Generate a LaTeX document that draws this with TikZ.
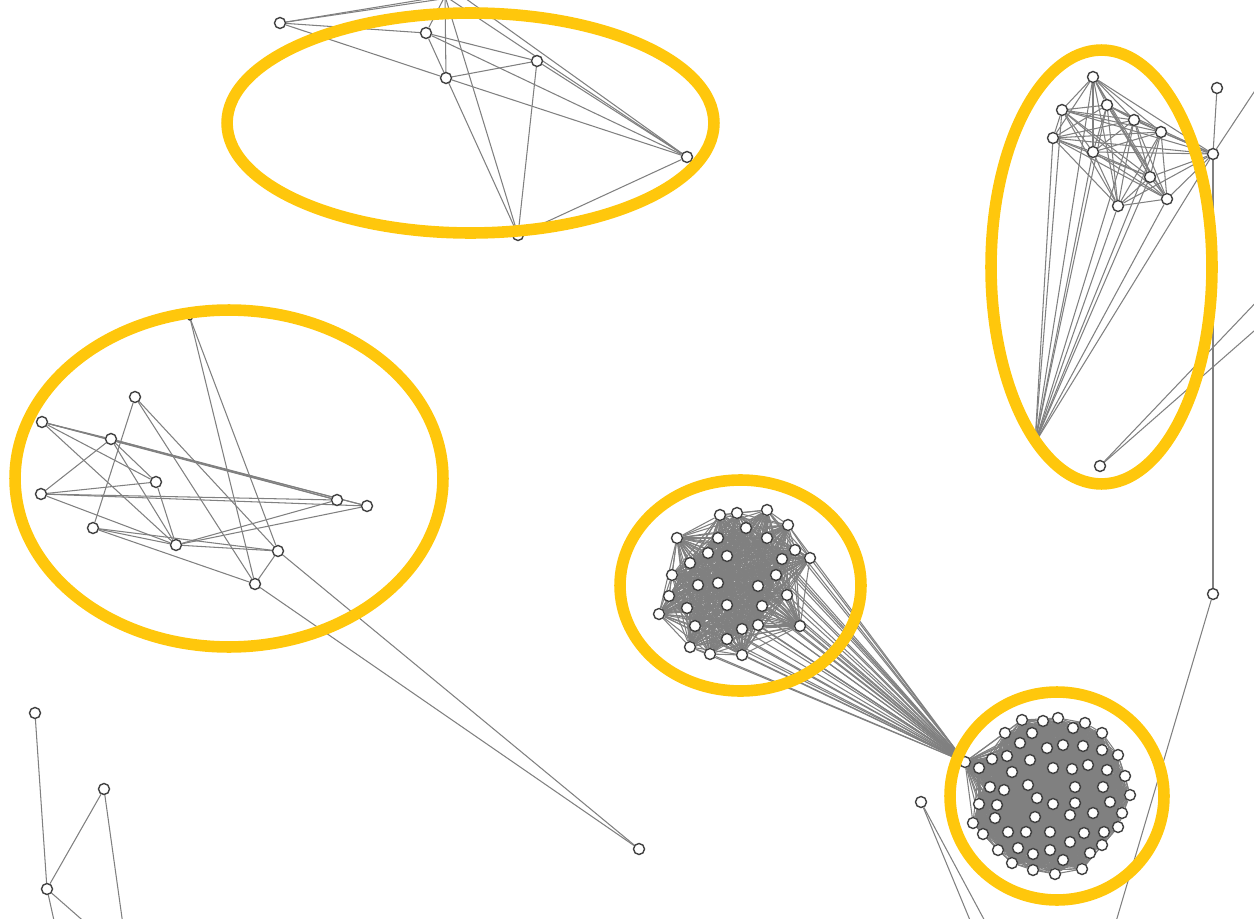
\documentclass[tikz,border=0pt]{standalone}
\usepackage{xcolor}
\usepackage{tikz}
\usetikzlibrary{positioning,calc}
\pgfdeclarelayer{bg}
\pgfsetlayers{bg,main}
\definecolor{hilite}{RGB}{255,199,12}
\definecolor{linkgray}{RGB}{128,128,128}
\tikzset{
  vertex/.style={circle,draw=black!75,fill=white,line width=0.8pt,inner sep=0pt,minimum size=0.22cm},
  link/.style={draw=linkgray,line width=0.6pt},
  group/.style={draw=hilite,line width=6.6pt}
}

\begin{document}
\begin{tikzpicture}[x=0.02cm,y=-0.02cm]
\useasboundingbox (0,0) rectangle (1254,919);
\clip (0,0) rectangle (1254,919);
% top group
\coordinate (ta) at (445,-4);
\coordinate (tb) at (462,-4);
\node[vertex] (t1) at (280,23) {};
\node[vertex] (t2) at (426,33) {};
\node[vertex] (t3) at (446,78) {};
\node[vertex] (t4) at (537,61) {};
\node[vertex] (t5) at (687,157) {};
\node[vertex] (t6) at (518,235) {};
% left group
\node[vertex, minimum size=0.08cm] (l0) at (190,318) {};
\node[vertex] (l1) at (42,422) {};
\node[vertex] (l2) at (135,397) {};
\node[vertex] (l3) at (111,439) {};
\node[vertex] (l4) at (156,482) {};
\node[vertex] (l5) at (41,494) {};
\node[vertex] (l6) at (93,528) {};
\node[vertex] (l7) at (176,545) {};
\node[vertex] (l8) at (278,551) {};
\node[vertex] (l9) at (255,584) {};
\node[vertex] (l10) at (337,500) {};
\node[vertex] (l11) at (367,506) {};
\node[vertex] (c1) at (639,849) {};
% right group
\foreach \x/\y [count=\i] in {1093/77,1062/110,1107/105,1134/120,1161/132,1053/138,
  1093/152,1150/177,1167/199,1118/206,1213/154}
  \node[vertex] (r\i) at (\x,\y) {};
\node[vertex, minimum size=0.08cm] (rhub) at (1035,443) {};
\node[vertex] (r12) at (1217,88) {};
\node[vertex] (r14) at (1100,466) {};
\node[vertex] (r15) at (1213,594) {};
\coordinate (rx1) at (1262,80);
\coordinate (rx2) at (1262,296);
\coordinate (rx3) at (1262,324);
\coordinate (rx4) at (1115,925);
% middle group
\foreach \x/\y [count=\i] in {720/515,737/513,767/510,788/525,677/538,718/538,746/528,
  767/538,708/553,727/556,795/550,810/558,782/559,690/563,672/575,698/585,718/583,
  776/575,758/586,669/596,787/595,727/605,762/606,687/608,659/614,695/626,742/629,
  758/625,800/626,727/639,690/647,710/654,742/655}
  \node[vertex] (m\i) at (\x,\y) {};
% bottom group
\node[vertex] (khub) at (965,762) {};
\foreach \x/\y [count=\i] in {1022/720,1043/721,1058/718,1073/728,1085/723,1102/733,
  1005/733,1032/733,1020/743,1047/748,1063/745,1083/746,1102/750,1118/755,992/759,
  1007/756,1030/760,1053/768,1072/769,1088/765,1107/770,1125/776,979/768,1012/772,
  990/787,1004/790,1028/785,1075/787,1103/787,1130/795,979/804,997/805,1037/798,
  1053/804,1075/803,1110/802,995/818,1035/817,1070/815,1093/813,1122/813,973/823,
  983/834,1008/832,1026/832,1050/832,1084/833,1104/832,1118/827,1070/842,1102/845,
  998/850,1018/848,1033/854,1050/850,1090/853,1012/863,1063/860,1033/870,1055/874,
  1082/869}
  \node[vertex] (k\i) at (\x,\y) {};
\node[vertex] (e1) at (921,802) {};
\coordinate (ex1) at (972,925);
\coordinate (ex2) at (987,925);
% lower left
\node[vertex] (f1) at (35,713) {};
\node[vertex] (f2) at (104,789) {};
\node[vertex] (f3) at (47,889) {};
\coordinate (fx1) at (123,925);
\coordinate (fx2) at (55,925);
\coordinate (fx3) at (88,925);

\begin{pgfonlayer}{bg}
\clip (0,0) rectangle (1254,919);
\foreach \u/\v in {t1/ta,t1/tb,t1/t2,t1/t3,t2/t4,t2/t5,t2/t6,t2/ta,t3/t4,t3/t5,t3/ta,
  t4/t5,t4/t6,ta/t6,ta/t5,tb/t5,t6/t5,
  l0/l8,l0/l9,l1/l3,l1/l10,l1/l11,l1/l7,l1/l4,l2/l6,l2/l9,l2/l8,l3/l5,l3/l7,l3/l10,
  l3/l11,l3/l4,l5/l10,l5/l11,l5/l4,l5/l7,l6/l7,l6/l8,l6/l9,l7/l10,l7/l11,l7/l8,l8/l9,
  l4/l7,l9/c1,l8/c1,
  r12/r11,r11/r15,r11/rx1,r14/rx2,r14/rx3,r15/rx4,
  e1/ex1,e1/ex2,f1/f3,f2/f3,f2/fx1,f3/fx2,f3/fx3}
  \draw[link] (\u) -- (\v);
% dense groups
\foreach \i in {2,...,11}{
  \pgfmathtruncatemacro{\k}{\i-1}
  \foreach \j in {1,...,\k} \draw[link] (r\i) -- (r\j);
}
\foreach \i in {1,...,11} \draw[link] (rhub) -- (r\i);
\foreach \i in {2,...,33}{
  \pgfmathtruncatemacro{\k}{\i-1}
  \foreach \j in {1,...,\k} \draw[link] (m\i) -- (m\j);
}
\foreach \i in {1,...,33} \draw[link] (m\i) -- (khub);
\foreach \i in {2,...,61}{
  \pgfmathtruncatemacro{\k}{\i-1}
  \foreach \j in {1,...,\k} \draw[link] (k\i) -- (k\j);
}
\foreach \i in {1,...,61} \draw[link] (khub) -- (k\i);
\end{pgfonlayer}

% highlighted groups
\draw[group] (470.5,123) ellipse [x radius=4.87cm, y radius=2.2cm];
\draw[group] (229,478.5) ellipse [x radius=4.28cm, y radius=3.37cm];
\draw[group] (1101.5,267) ellipse [x radius=2.21cm, y radius=4.34cm];
\draw[group] (740.5,585.5) ellipse [x radius=2.41cm, y radius=2.11cm];
\draw[group] (1057,796) ellipse [x radius=2.14cm, y radius=2.08cm];
\end{tikzpicture}
\end{document}
